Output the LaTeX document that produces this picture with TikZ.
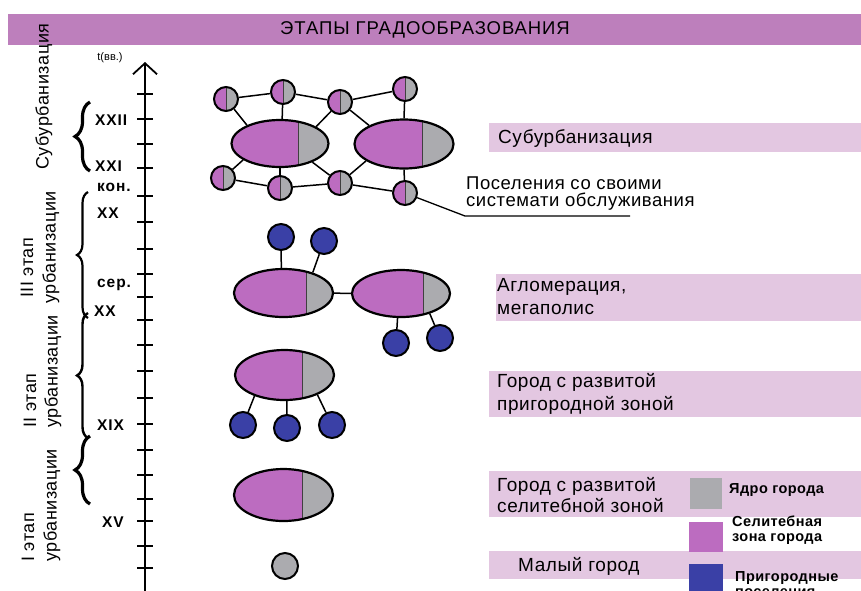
\documentclass[tikz,border=0pt]{standalone}
\usepackage{fontspec}
\setmainfont{Liberation Sans}
\newfontfamily\lblfont[LetterSpace=3]{Liberation Sans}
\newfontfamily\titfont[LetterSpace=5]{Liberation Sans}
\newfontfamily\axfont[LetterSpace=6]{Liberation Sans}
\usetikzlibrary{shapes.geometric,calc,decorations.pathreplacing,arrows.meta}
\definecolor{titlebar}{HTML}{BD7FBC}
\definecolor{lblbar}{HTML}{E3C7E1}
\definecolor{purp}{HTML}{BC6CC0}
\definecolor{coreg}{HTML}{ABABAF}
\definecolor{subblue}{HTML}{3A40A6}
\tikzset{
  cityE/.style={ellipse, draw=black, line width=2.2pt, fill=purp, inner sep=0pt,
    minimum width=97pt, minimum height=47pt,
    path picture={
      \fill[coreg] ($(path picture bounding box.south west)!#1!(path picture bounding box.south east)$) rectangle (path picture bounding box.north east);
      \draw[line width=0.9pt, black!75] ($(path picture bounding box.south west)!#1!(path picture bounding box.south east)$) -- ($(path picture bounding box.north west)!#1!(path picture bounding box.north east)$);
    }},
  halfC/.style={circle, draw=black, line width=2pt, fill=purp, inner sep=0pt, minimum size=24pt,
    path picture={
      \fill[coreg] (path picture bounding box.south) rectangle (path picture bounding box.north east);
      \draw[line width=0.8pt, black!75] (path picture bounding box.south) -- (path picture bounding box.north);
    }},
  subC/.style={circle, draw=black, line width=2pt, fill=subblue, inner sep=0pt, minimum size=26pt},
  lnk/.style={line width=1.5pt, black},
  barbox/.style={rectangle, fill=lblbar, draw=none, inner sep=0pt, anchor=north west},
  lbl/.style={font=\lblfont\fontsize{19}{23}\selectfont, align=left, inner sep=0pt, anchor=west},
  axlbl/.style={font=\axfont\bfseries\fontsize{15.5}{17}\selectfont, inner sep=0pt, anchor=west},
  rot/.style={rotate=90, font=\lblfont\fontsize{18}{22}\selectfont, inner sep=0pt, anchor=west},
  legtxt/.style={font=\lblfont\bfseries\fontsize{14.5}{14.5}\selectfont, align=left, inner sep=0pt, anchor=west},
  brc/.style={decorate, black},
  tickln/.style={line width=1.5pt, black}
}
\begin{document}
\begin{tikzpicture}[x=1pt,y=-1pt]
\useasboundingbox (0,0) rectangle (861,590);
\fill[white] (0,0) rectangle (861,590);

% title bar
\node[rectangle, fill=titlebar, inner sep=0pt, anchor=north west, minimum width=853pt, minimum height=31pt] (tbar) at (8,14) {};
\node[font=\titfont\fontsize{18.5}{20}\selectfont, inner sep=0pt] (title) at (425,30) {ЭТАПЫ ГРАДООБРАЗОВАНИЯ};

% right label bars
\node[barbox, minimum width=372pt, minimum height=29pt] (barSub) at (489,123) {};
\node[barbox, minimum width=365pt, minimum height=47pt] (barAgl) at (496,274) {};
\node[barbox, minimum width=372pt, minimum height=46pt] (barPri) at (489,371) {};
\node[barbox, minimum width=372pt, minimum height=46pt] (barSel) at (489,471) {};
\node[barbox, minimum width=372pt, minimum height=28pt] (barMal) at (489,551) {};

\node[lbl] (tSub) at (498,138) {Субурбанизация};
\node[lbl] (tAgl) at (497,297) {Агломерация,\\мегаполис};
\node[lbl] (tPri) at (497,394) {Город с развитой\\пригородной зоной};
\node[lbl, font=\lblfont\fontsize{19}{21}\selectfont] (tSel) at (497,495) {Город с развитой\\селитебной зоной};
\node[lbl] (tMal) at (518,566) {Малый город};
\node[lbl, font=\lblfont\fontsize{18.5}{17}\selectfont] (tPos) at (466,194) {Поселения со своими\\системати обслуживания};

% legend
\node[rectangle, fill=coreg, inner sep=0pt, anchor=north west, minimum width=32pt, minimum height=31pt] (legG) at (690,478) {};
\node[rectangle, fill=purp, inner sep=0pt, anchor=north west, minimum width=34pt, minimum height=30pt] (legP) at (689,522) {};
\node[rectangle, fill=subblue, inner sep=0pt, anchor=north west, minimum width=34pt, minimum height=32pt] (legB) at (689,564) {};
\node[legtxt] (lgG) at (729,490) {Ядро города};
\node[legtxt] (lgP) at (732,530) {Селитебная\\зона города};
\node[legtxt] (lgB) at (735,584) {Пригородные\\поселения};

% time axis
\coordinate (axB) at (145,592);
\coordinate (axT) at (145,62);
\draw[line width=1.8pt, -{Straight Barb[length=11pt, width=24pt, line width=1.8pt]}] (axB) -- (axT);
\foreach \yy in {94,119,144,168,196,222,249,274,297,320,345,371,398,424,450,475,499,521,546,568}
  \draw[tickln] (137,\yy) -- (153,\yy);

\node[font=\fontsize{11}{12}\selectfont, inner sep=0pt] (tlab) at (110,58) {t(вв.)};
\node[axlbl] (aXXII) at (95,120) {XXII};
\node[axlbl] (aXXI) at (95,166) {XXI};
\node[axlbl] (aKon) at (97,187) {кон.};
\node[axlbl] (aXX1) at (97,213) {XX};
\node[axlbl] (aSer) at (97,285) {сер.};
\node[axlbl] (aXX2) at (94,311) {XX};
\node[axlbl] (aXIX) at (97,425) {XIX};
\node[axlbl] (aXV) at (102,522) {XV};

% braces
\coordinate (bSa) at (90,171); \coordinate (bSb) at (90,102);
\coordinate (bIIIa) at (88,318); \coordinate (bIIIb) at (88,192);
\coordinate (bIIa) at (88,438); \coordinate (bIIb) at (88,313);
\coordinate (bIa) at (90,504); \coordinate (bIb) at (90,436);
\draw[brc, line width=3.2pt, decoration={brace, amplitude=15pt}] (bSa) -- (bSb);
\draw[brc, line width=2.2pt, decoration={brace, amplitude=11pt}] (bIIIa) -- (bIIIb);
\draw[brc, line width=2.4pt, decoration={brace, amplitude=11pt}] (bIIa) -- (bIIb);
\draw[brc, line width=3.2pt, decoration={brace, amplitude=15pt}] (bIa) -- (bIb);

% rotated stage labels
\node[rot] (rSub) at (44,170) {Субурбанизация};
\node[rot] (rIII1) at (27,298) {III этап};
\node[rot] (rIII2) at (51,304) {урбанизации};
\node[rot] (rII1) at (30,428) {II этап};
\node[rot] (rII2) at (53,428) {урбанизации};
\node[rot] (rI1) at (28,562) {I этап};
\node[rot] (rI2) at (52,562) {урбанизации};

% suburbanisation cluster
\node[cityE=0.69] (E1) at (280,143.5) {};
\node[cityE=0.69, minimum width=99pt, minimum height=49pt] (E2) at (404,144) {};
\node[halfC] (c1) at (226,99) {};
\node[halfC] (c2) at (283,92) {};
\node[halfC] (c3) at (340,102) {};
\node[halfC] (c4) at (405,89) {};
\node[halfC] (d1) at (223,178) {};
\node[halfC] (d2) at (280,188) {};
\node[halfC] (d3) at (340,183) {};
\node[halfC] (d4) at (405,193) {};
\draw[lnk] (c1) -- (c2);
\draw[lnk] (c2) -- (c3);
\draw[lnk] (c3) -- (c4);
\draw[lnk] (d1) -- (d2);
\draw[lnk] (d2) -- (d3);
\draw[lnk] (d3) -- (d4);
\draw[lnk] (c1) -- (E1.151);
\draw[lnk] (c2) -- (E1.85);
\draw[lnk] (c3) -- (E1.25);
\draw[lnk] (c3) -- (E2.152);
\draw[lnk] (c4) -- (E2.north);
\draw[lnk] (d1) -- (E1.204);
\draw[lnk] (d2) -- (E1.south);
\draw[lnk] (d3) -- (E1.330);
\draw[lnk] (d3) -- (E2.204);
\draw[lnk] (d4) -- (E2.south);
\coordinate (ldA) at (465,216);
\coordinate (ldB) at (630,216);
\draw[line width=1.3pt] (d4) -- (ldA) -- (ldB);

% agglomeration
\node[cityE=0.73, minimum width=99pt, minimum height=48pt] (E3) at (283.5,293) {};
\node[cityE=0.73, minimum width=98pt, minimum height=47pt] (E4) at (401,293.5) {};
\node[subC] (s1) at (281,237) {};
\node[subC] (s2) at (324,241) {};
\node[subC] (s3) at (396,343) {};
\node[subC] (s4) at (440,338) {};
\draw[lnk] (E3) -- (E4);
\draw[lnk] (s1) -- (E3.95);
\draw[lnk] (s2) -- (E3.35);
\draw[lnk] (s3) -- (E4.262);
\draw[lnk] (s4) -- (E4.325);

% city with suburban zone
\node[cityE=0.68, minimum width=99pt, minimum height=50pt] (E5) at (284.5,375) {};
\node[subC] (s5) at (243,425) {};
\node[subC] (s6) at (287,428) {};
\node[subC] (s7) at (332,425) {};
\draw[lnk] (s5) -- (E5.215);
\draw[lnk] (s6) -- (E5.275);
\draw[lnk] (s7) -- (E5.329);

% city with residential zone
\node[cityE=0.69, minimum width=99pt, minimum height=52pt] (E6) at (283.5,495) {};

% small town
\node[circle, draw=black, line width=2pt, fill=coreg, inner sep=0pt, minimum size=26pt] (g1) at (285,566) {};
\end{tikzpicture}
\end{document}
